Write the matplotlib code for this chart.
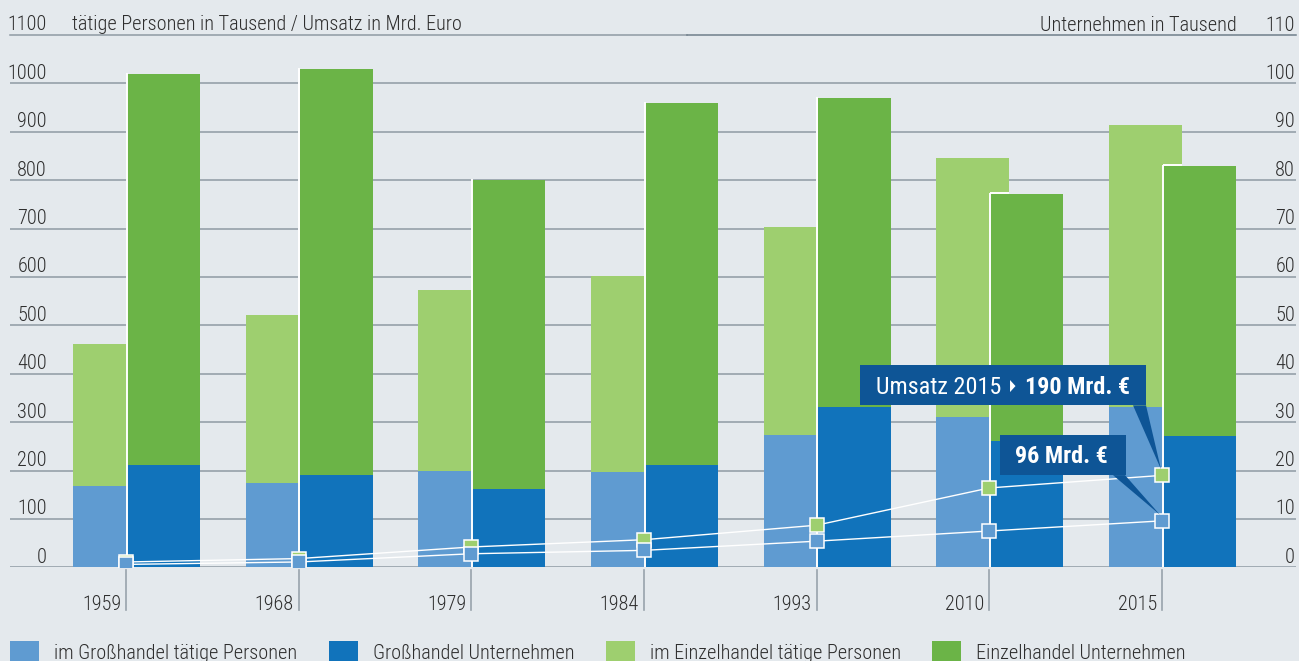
import matplotlib
matplotlib.use("Agg")
import matplotlib.pyplot as plt
import matplotlib.transforms as mtransforms
from matplotlib.patches import Polygon, Rectangle
import numpy as np

plt.rcParams['font.family'] = ['Roboto Condensed', 'DejaVu Sans']
plt.rcParams['font.weight'] = 300

# --- data ---------------------------------------------------------------
years = ['1959', '1968', '1979', '1984', '1993', '2010', '2015']
pers_gross = [168, 174, 199, 197, 273, 311, 332]       # tätige Personen, Tsd.
pers_einzel = [293, 347, 374, 405, 430, 535, 583]
unt_gross = [21.1, 19.1, 16.2, 21.1, 33.1, 26.2, 27.1]  # Unternehmen, Tsd.
unt_einzel = [80.9, 83.9, 63.8, 74.9, 63.9, 51.0, 55.9]
umsatz_einzel = [11, 18, 42, 57, 87, 164, 190]          # Mrd. Euro
umsatz_gross = [6, 11, 28, 35, 54, 75, 96]

legend_labels = ['im Großhandel tätige Personen', 'Großhandel Unternehmen',
                 'im Einzelhandel tätige Personen', 'Einzelhandel Unternehmen']

# --- style --------------------------------------------------------------
BG = '#e4e9ed'
C_PG = '#5f9bd1'
C_UG = '#1173bb'
C_PE = '#9ecf6f'
C_UE = '#6bb447'
C_BOX = '#0e5596'
C_GRID = '#8e9aa3'
C_TXT = '#2e2e2e'
FS = 14.6
FS_BOX = 17.4

W, H = 1299, 661
fig = plt.figure(figsize=(W / 100, H / 100), dpi=100, facecolor=BG)

def fx(px):
    return px / W

def fy(py):
    return 1 - py / H

y0_px, y1100_px = 567.3, 35.0
ax_left, ax_right = 10, 1296
ax = fig.add_axes([fx(ax_left), fy(y0_px), fx(ax_right - ax_left), (y0_px - y1100_px) / H])
ax.set_facecolor('none')
ax2 = ax.twinx()

step = 172.67
x0 = 126
x = np.arange(len(years))
ax.set_xlim((ax_left - x0) / step, (ax_right - x0) / step)
ax.set_ylim(0, 1100)
ax2.set_ylim(0, 110)
for a in (ax, ax2):
    for s in a.spines.values():
        s.set_visible(False)
    a.tick_params(left=False, right=False, bottom=False, labelleft=False,
                  labelright=False, labelbottom=False)

ax.set_yticks(range(0, 1001, 100))
ax.set_xticks([])
ax.grid(axis='y', color=C_GRID, lw=1.1)
ax.set_axisbelow(True)
split = (687 - ax_left) / (ax_right - ax_left)
ax.axhline(1100, 0, split, color=C_GRID, lw=1.1, clip_on=False)
ax.axhline(1100, split, 1, color='#6f7e8a', lw=1.1, clip_on=False)

# bars: persons (left), companies (right, overlapping)
bw = 73 / step
off_p = -16.5 / step
off_u = 37.5 / step
ax.bar(x + off_p, pers_gross, bw, color=C_PG, zorder=2)
ax.bar(x + off_p, pers_einzel, bw, bottom=pers_gross, color=C_PE, zorder=2)
ax2.bar(x + off_u, unt_gross, bw, color=C_UG, zorder=2)
ax2.bar(x + off_u, unt_einzel, bw, bottom=unt_gross, color=C_UE, zorder=2)

# white edge where the company bar overlaps the persons bar
unt_tot = np.add(unt_gross, unt_einzel)
pers_tot = np.add(pers_gross, pers_einzel)
edge_x = x + 0.5 / step
ax2.vlines(edge_x, 0, unt_tot + 0.15, color='white', lw=1.4, zorder=3)
for i in range(len(years)):
    if pers_tot[i] > unt_tot[i] * 10:
        ax2.hlines(unt_tot[i] + 0.15, edge_x[i], x[i] + 20 / step,
                   color='white', lw=1.4, zorder=3)

# Umsatz lines (left scale), drawn on top of the bars
ax2.plot(x, umsatz_einzel, transform=ax.transData, color='white', lw=1.0, zorder=4)
ax2.plot(x, umsatz_gross, transform=ax.transData, color='white', lw=1.0, zorder=4)
ax2.plot(x, umsatz_einzel, transform=ax.transData, ls='none', marker='s', ms=10,
         mfc=C_PE, mec='white', mew=1.1, zorder=5)
ax2.plot(x, umsatz_gross, transform=ax.transData, ls='none', marker='s', ms=10,
         mfc=C_PG, mec='white', mew=1.1, zorder=6)

# axis labels above grid lines
ylab = mtransforms.offset_copy(ax.get_yaxis_transform(), fig=fig, y=4.5, units='dots')
for v in range(0, 1101, 100):
    ax.text((47 - ax_left) / (ax_right - ax_left), v, str(v), transform=ylab,
            ha='right', va='baseline', fontsize=FS, color=C_TXT)
ylab2 = mtransforms.offset_copy(ax2.get_yaxis_transform(), fig=fig, y=4.5, units='dots')
for v in range(0, 111, 10):
    ax2.text((1295 - ax_left) / (ax_right - ax_left), v, str(v), transform=ylab2,
             ha='right', va='baseline', fontsize=FS, color=C_TXT)
ax.text((72 - ax_left) / (ax_right - ax_left), 1100,
        'tätige Personen in Tausend / Umsatz in Mrd. Euro', transform=ylab,
        ha='left', va='baseline', fontsize=FS, color=C_TXT)
ax2.text((1237 - ax_left) / (ax_right - ax_left), 110, 'Unternehmen in Tausend',
         transform=ylab2, ha='right', va='baseline', fontsize=FS, color=C_TXT)

# year ticks and labels below the axis
xfig = mtransforms.blended_transform_factory(ax.transData, fig.transFigure)
for i, yr in enumerate(years):
    ax.plot([x[i], x[i]], [fy(570), fy(610)], transform=xfig, color='#98a3ac',
            lw=1.2, clip_on=False)
    ax.text(x[i] - 5 / step, fy(610), yr, transform=xfig, ha='right',
            va='baseline', fontsize=FS, color=C_TXT)

# callouts for the 2015 Umsatz values
fig.canvas.draw()
def anchor(val):
    return ax.transData.transform((x[-1], val))

def callout(val, box, tri):
    axp, ayp = anchor(val)
    tr = mtransforms.Affine2D().translate(axp, ayp)
    l, r, t, b = box
    fig.add_artist(Polygon([(l, b), (r, b), (r, t), (l, t)], closed=True,
                           fc=C_BOX, ec='none', transform=tr, zorder=4.5))
    fig.add_artist(Polygon(tri, closed=True, fc=C_BOX, ec='none', transform=tr,
                           zorder=4.5))
    return tr

tr1 = callout(umsatz_einzel[-1], (-302, -16, 110, 70), [(-29, 70), (-16, 70), (-1, 6)])
fig.text(-286, 81.6, 'Umsatz 2015', transform=tr1, color='white', fontsize=FS_BOX,
         weight=400, va='baseline', ha='left', zorder=7)
fig.add_artist(Polygon([(-152, 95.3), (-152, 83.3), (-146.5, 89.3)], closed=True,
                       fc='white', ec='none', transform=tr1, zorder=7))
fig.text(-137, 81.6, f'{umsatz_einzel[-1]} Mrd. €', transform=tr1, color='white',
         fontsize=FS_BOX, weight='bold', va='baseline', ha='left', zorder=7)

tr2 = callout(umsatz_gross[-1], (-162, -36, 86, 45.7), [(-49, 45.7), (-37, 45.7), (-2, 6)])
fig.text(-147, 57.7, f'{umsatz_gross[-1]} Mrd. €', transform=tr2, color='white',
         fontsize=FS_BOX, weight='bold', va='baseline', ha='left', zorder=7)

# legend along the bottom edge
sq_x = [10, 329, 606, 932]
tx_x = [54, 373, 650, 976]
for sx, tx, col, lab in zip(sq_x, tx_x, [C_PG, C_UG, C_PE, C_UE], legend_labels):
    fig.add_artist(Rectangle((fx(sx), 0), fx(29), (H - 641) / H, transform=fig.transFigure,
                             fc=col, ec='none'))
    fig.text(fx(tx), fy(659), lab, ha='left', va='baseline', fontsize=FS, color=C_TXT)

fig.savefig('out.png', dpi=100, facecolor=BG)
